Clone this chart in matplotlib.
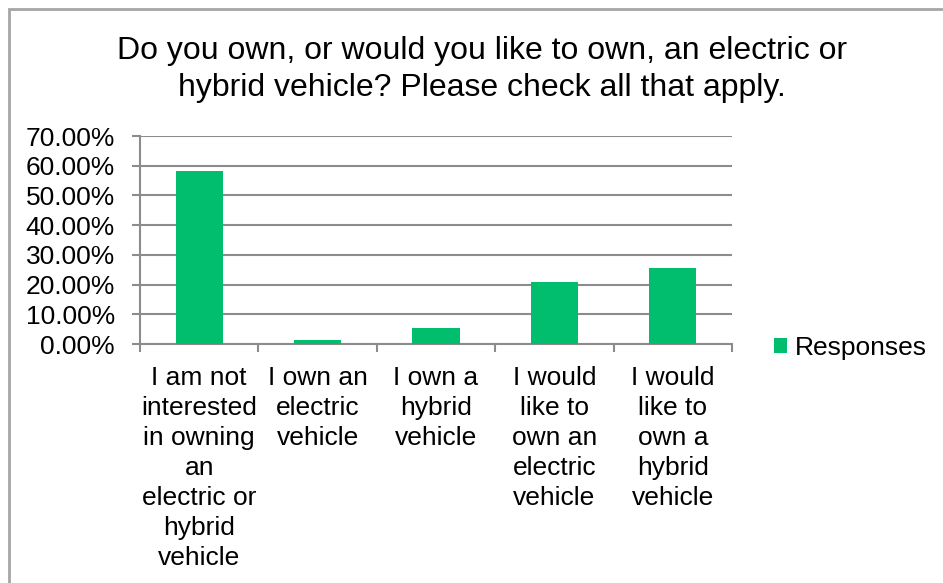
import matplotlib
matplotlib.use('Agg')
import matplotlib.pyplot as plt
from matplotlib.patches import Rectangle
from matplotlib.ticker import FuncFormatter, FixedLocator
import numpy as np

plt.rcParams['font.family'] = ['Liberation Sans', 'DejaVu Sans']

TITLE = 'Do you own, or would you like to own, an electric or\nhybrid vehicle? Please check all that apply.'
categories = ['I am not\ninterested\nin owning\nan\nelectric or\nhybrid\nvehicle',
              'I own an\nelectric\nvehicle',
              'I own a\nhybrid\nvehicle',
              'I would\nlike to\nown an\nelectric\nvehicle',
              'I would\nlike to\nown a\nhybrid\nvehicle']
responses = [0.581, 0.015, 0.055, 0.209, 0.257]
y_ticks = [0.0, 0.1, 0.2, 0.3, 0.4, 0.5, 0.6, 0.7]

W, H = 943, 583
GREEN = '#00BE6E'
GRID = '#8C8C8C'

fig = plt.figure(figsize=(W / 100, H / 100), dpi=100)
ax = fig.add_axes([140 / W, (H - 344) / H, (732 - 140) / W, (344 - 136) / H])

x = np.arange(len(categories))
ax.bar(x, responses, width=0.4, color=GREEN, zorder=3, label='Responses')

ax.set_xlim(-0.5, len(categories) - 0.5)
ax.set_ylim(0, 0.7)
ax.yaxis.set_major_locator(FixedLocator(y_ticks))
ax.yaxis.set_major_formatter(FuncFormatter(lambda v, _: f'{v * 100:.2f}%'))
ax.grid(axis='y', color=GRID, linewidth=1.5, zorder=0)

ax.set_xticks(x)
ax.set_xticklabels(categories, fontsize=19, linespacing=1.31, va='top')
ax.set_xticks(np.arange(len(categories) + 1) - 0.5, minor=True)
ax.tick_params(axis='x', which='major', length=0, pad=16)
ax.tick_params(axis='x', which='minor', length=6, width=1.5, color=GRID, direction='out')
ax.tick_params(axis='y', length=6, width=1.5, color=GRID, direction='out', labelsize=19, pad=12)

for side in ('top', 'right'):
    ax.spines[side].set_visible(False)
for side in ('left', 'bottom'):
    ax.spines[side].set_color(GRID)
    ax.spines[side].set_linewidth(1.5)

fig.text(482 / W, 1 - 96 / H, TITLE, ha='center', va='baseline', fontsize=23,
         linespacing=1.3)

leg = fig.legend(loc='center left', bbox_to_anchor=(774 / W, 1 - 348 / H), frameon=False,
                 fontsize=19, handlelength=0.5, handleheight=0.5, handletextpad=0.3,
                 borderaxespad=0, borderpad=0)

fig.patches.append(Rectangle((8.5 / W, -0.1), 2, 1.1 - 9.5 / H, transform=fig.transFigure,
                             fill=False, edgecolor='#A6A6A6', linewidth=2))

fig.savefig('out.png', dpi=100)
